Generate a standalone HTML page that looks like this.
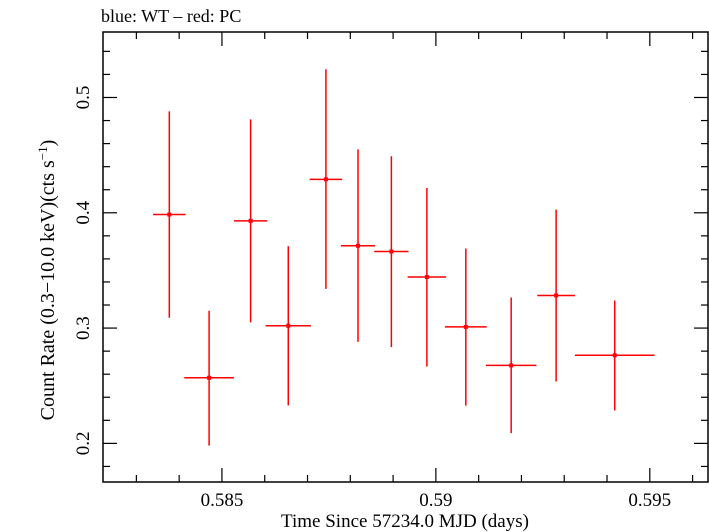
<!DOCTYPE html>
<html><head><meta charset="utf-8"><style>
html,body{margin:0;padding:0;background:#fff;}
svg{display:block;font-family:"Liberation Serif",serif;}
</style></head><body>
<svg id="chart" width="709" height="532" viewBox="0 0 709 532">
<text x="101" y="22" font-size="18" fill="#000">blue: WT – red: PC</text>
<rect x="103" y="32" width="605" height="450" fill="none" stroke="#000" stroke-width="1.5"/>
<g id="ticks"></g>
<g id="series"></g>
<text x="405" y="527" font-size="19" text-anchor="middle">Time Since 57234.0 MJD (days)</text>
<text transform="translate(54,280) rotate(-90)" font-size="20" text-anchor="middle">Count Rate (0.3−10.0 keV)(cts s<tspan dy="-7" font-size="13">−1</tspan><tspan dy="7">)</tspan></text>
</svg>
<script>
const times=[0.58377,0.58470,0.58567,0.58655,0.58743,0.58818,0.58896,0.58979,0.59070,0.59176,0.59281,0.59418];
const timeErr=[0.00038,0.00058,0.00039,0.00053,0.00038,0.0004,0.0004,0.00045,0.00049,0.00059,0.00044,0.00093];
const rates=[0.3985,0.2569,0.393,0.302,0.429,0.3714,0.3664,0.3443,0.301,0.2676,0.3283,0.2764];
const rateHi=[0.488,0.315,0.481,0.371,0.5245,0.455,0.449,0.4215,0.369,0.3265,0.4027,0.3239];
const rateLo=[0.309,0.198,0.305,0.233,0.334,0.288,0.2835,0.2667,0.2327,0.2089,0.2537,0.2286];
const xTickLabels=["0.585","0.59","0.595"];
const yTickLabels=["0.2","0.3","0.4","0.5"];
const X0=0.58222,X1=0.59636,Y0=0.1665,Y1=0.5568;
const L=103,R=708,T=32,B=482;
function sx(v){return L+(v-X0)/(X1-X0)*(R-L);}
function sy(v){return B-(v-Y0)/(Y1-Y0)*(B-T);}
const NS="http://www.w3.org/2000/svg";
function mk(tag,attrs,parent){const e=document.createElementNS(NS,tag);for(const k in attrs)e.setAttribute(k,attrs[k]);parent.appendChild(e);return e;}
const tk=document.getElementById('ticks');
for(let i=583;i<=596;i++){
  const v=i/1000,x=sx(v),major=(i%5===0),len=major?14:7;
  const a=mk('line',{x1:x,x2:x,y1:B,y2:B-len,stroke:'#000','stroke-width':1.2},tk);
  
  
  const b=mk('line',{x1:x,x2:x,y1:T,y2:T+len,stroke:'#000','stroke-width':1.2},tk);
  
  
}
xTickLabels.forEach(s=>{
  const t=mk('text',{x:sx(parseFloat(s)),y:506,'font-size':19,'text-anchor':'middle'},tk);
  t.textContent=s;
  
  
});
for(let i=9;i<=27;i++){
  const v=i*0.02,y=sy(v);if(y<T||y>B)continue;
  const major=(i%5===0),len=major?14:7;
  const a=mk('line',{x1:L,x2:L+len,y1:y,y2:y,stroke:'#000','stroke-width':1.2},tk);
  
  
  const b=mk('line',{x1:R,x2:R-len,y1:y,y2:y,stroke:'#000','stroke-width':1.2},tk);
  
  
}
yTickLabels.forEach(s=>{
  const y=sy(parseFloat(s));
  const t=mk('text',{transform:`translate(89,${y}) rotate(-90)`,'font-size':19,'text-anchor':'middle'},tk);
  t.textContent=s;
  
  
});
const sr=document.getElementById('series');
times.forEach((t,i)=>{
  const g=mk('g',{},sr);
  
  
  mk('line',{x1:sx(t-timeErr[i]),x2:sx(t+timeErr[i]),y1:sy(rates[i]),y2:sy(rates[i]),stroke:'#f00','stroke-width':1.5},g);
  mk('line',{x1:sx(t),x2:sx(t),y1:sy(rateHi[i]),y2:sy(rateLo[i]),stroke:'#f00','stroke-width':1.5},g);
  mk('rect',{x:sx(t)-2,y:sy(rates[i])-2,width:4,height:4,fill:'#f00'},g);
});
</script>
</body></html>
